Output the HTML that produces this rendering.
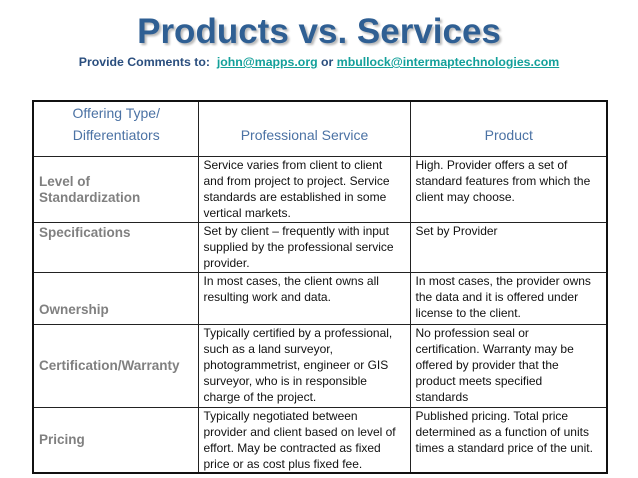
<!DOCTYPE html>
<html><head><meta charset="utf-8"><style>
body{margin:0;width:638px;height:478px;background:#fff;position:relative;overflow:hidden;font-family:"Liberation Sans",Arial,sans-serif}
.t{position:absolute;left:0;width:638px;text-align:center}
#title{top:12px;font-size:35px;font-weight:bold;color:#2f5f93;text-shadow:2px 2px 2px #b8b8b8}
#sub{top:55px;font-size:12.3px;font-weight:bold;color:#2a4e7e}
#sub a{color:#13a09a;text-decoration:underline}
table{position:absolute;left:32px;top:100px;width:574px;table-layout:fixed;border-collapse:collapse;border:2.5px solid #111}
td{border:1.5px solid #222;font-size:12px;line-height:16px;vertical-align:top;padding:0 4px 0 5px;color:#111;overflow:hidden}
td.l{font-size:13.5px;font-weight:bold;color:#808080;vertical-align:middle}
tr.h td{color:#4b72a4;font-size:14px;text-align:center;vertical-align:bottom;padding-bottom:10px;line-height:22px}
</style></head><body>
<div class="t" id="title">Products vs. Services</div>
<div class="t" id="sub">Provide Comments to:&nbsp; <a>john@mapps.org</a> or <a>mbullock@intermaptechnologies.com</a></div>
<table>
<colgroup><col style="width:165px"><col style="width:212px"><col style="width:197px"></colgroup>
<tr class="h" style="height:53px"><td>Offering Type/<br>Differentiators</td><td>Professional Service</td><td>Product</td></tr>
<tr style="height:66px"><td class="l">Level of<br>Standardization</td><td>Service varies from client to client and from project to project. Service standards are established in some vertical markets.</td><td>High. Provider offers a set of standard features from which the client may choose.</td></tr>
<tr style="height:50px"><td class="l" style="vertical-align:top;padding-top:2px">Specifications</td><td>Set by client – frequently with input supplied by the professional service provider.</td><td>Set by Provider</td></tr>
<tr style="height:52px"><td class="l" style="vertical-align:bottom;padding-bottom:6px">Ownership</td><td>In most cases, the client owns all resulting work and data.</td><td>In most cases, the provider owns the data and it is offered under license to the client.</td></tr>
<tr style="height:83px"><td class="l">Certification/Warranty</td><td>Typically certified by a professional, such as a land surveyor, photogrammetrist, engineer or GIS surveyor, who is in responsible charge of the project.</td><td>No profession seal or<br>certification. Warranty may be<br>offered by provider that the<br>product meets specified<br>standards</td></tr>
<tr style="height:64px"><td class="l">Pricing</td><td>Typically negotiated between<br>provider and client based on level of effort. May be contracted as fixed price or as cost plus fixed fee.</td><td>Published pricing. Total price determined as a function of units times a standard price of the unit.</td></tr>
</table>
</body></html>
